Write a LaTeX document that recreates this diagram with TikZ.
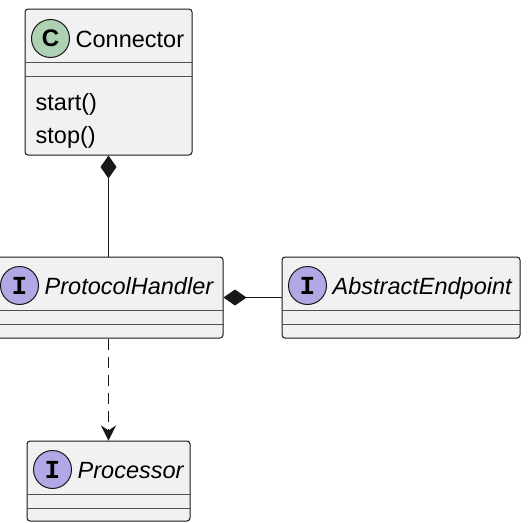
\documentclass[tikz,border=0pt]{standalone}
\usepackage{fontspec}
\setmainfont{Liberation Sans}
\newfontfamily\glyphfont{Liberation Mono}
\usetikzlibrary{arrows.meta}
\usepackage{xcolor}
\definecolor{boxfill}{HTML}{F1F1F1}
\definecolor{edge}{HTML}{181818}
\definecolor{rule}{HTML}{505050}
\definecolor{classgreen}{HTML}{ADD1B2}
\definecolor{ifacepurple}{HTML}{B4A7E5}
\newcommand{\umlsize}{\fontsize{23.5}{28}\selectfont}

\tikzset{
  classbox/.style={rectangle, draw=edge, fill=boxfill, rounded corners=3pt, line width=1pt, inner sep=0pt},
  badge/.style={circle, draw=edge, line width=1pt, minimum size=38pt, inner sep=0pt},
  title/.style={anchor=base west, inner sep=0pt, font=\umlsize},
  member/.style={anchor=base west, inner sep=0pt, font=\umlsize},
  link/.style={draw=edge, line width=1pt},
}

\begin{document}
\begin{tikzpicture}[x=1pt, y=-1pt]
  \useasboundingbox (0,0) rectangle (530,522);

  % class boxes
  \node[classbox, minimum width=167pt, minimum height=146pt] (connector) at (108.5,82) {};
  \node[classbox, minimum width=229pt, minimum height=81pt] (handler) at (108.5,297.5) {};
  \node[classbox, minimum width=238pt, minimum height=81pt] (endpoint) at (401,297.5) {};
  \node[classbox, minimum width=163pt, minimum height=80pt] (processor) at (108.5,481) {};

  % field and method separators
  \foreach \n in {connector,handler,endpoint,processor} {
    \draw[rule, line width=1pt] ([yshift=-54pt]\n.north west) -- ([yshift=-54pt]\n.north east);
    \draw[rule, line width=1pt] ([yshift=-67.5pt]\n.north west) -- ([yshift=-67.5pt]\n.north east);
  }

  % headers
  \node[badge, fill=classgreen, font=\fontsize{24}{24}\selectfont\bfseries] (connectorC) at ([xshift=26pt, yshift=-30pt]connector.north west) {C};
  \node[title] (connectorName) at ([xshift=51pt, yshift=-38.5pt]connector.north west) {Connector};
  \foreach \n/\t in {handler/ProtocolHandler, endpoint/AbstractEndpoint, processor/Processor} {
    \node[badge, fill=ifacepurple, font=\fontsize{26}{26}\glyphfont\bfseries] (\n I) at ([xshift=26pt, yshift=-29pt]\n.north west) {I};
    \node[title, font=\umlsize\itshape] (\n Name) at ([xshift=51pt, yshift=-38pt]\n.north west) {\t};
  }

  % methods
  \node[member] (start) at ([xshift=11pt, yshift=-102pt]connector.north west) {start()};
  \node[member] (stop) at ([xshift=11pt, yshift=-135pt]connector.north west) {stop()};

  % relations
  \draw[link, {Diamond[length=23pt, width=16pt]}-] (connector.south) -- (handler.north);
  \draw[link, {Diamond[length=23pt, width=16pt]}-] (handler.east) -- (endpoint.west);
  \draw[link, dash pattern=on 11pt off 7pt, -{Stealth[length=15pt, width=15pt, inset=5pt]}] (handler.south) -- (processor.north);
\end{tikzpicture}
\end{document}
